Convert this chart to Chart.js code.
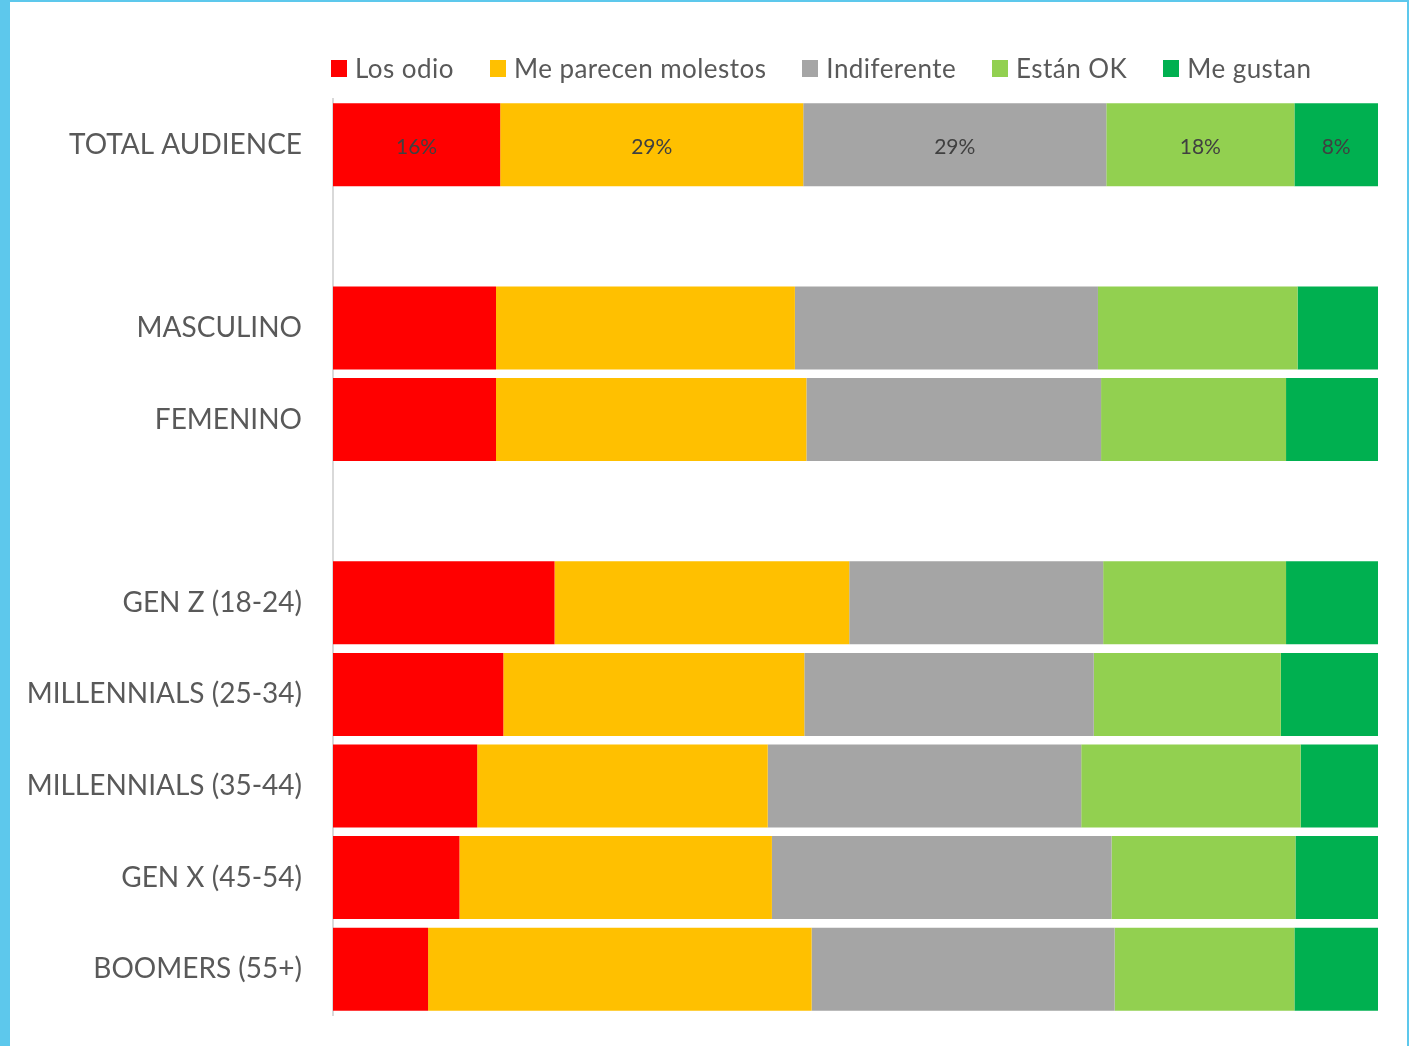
<!DOCTYPE html>
<html lang="es">
<head>
<meta charset="utf-8" />
<title>Opinión por segmento</title>
<style>
html,body{margin:0;padding:0;background:#fff;}
#frame{
    position:absolute;left:0;top:0;width:1409px;height:1046px;box-sizing:border-box;
    border-left:10px solid #5dc8ec;border-top:2px solid #5dc8ec;border-right:2px solid #5dc8ec;
    background:#fff;
}
#chart{position:absolute;left:0;top:0;}
#legend{
    position:absolute;left:331px;top:52px;height:32px;display:flex;align-items:center;gap:36px;
    font-family:Lato,"Open Sans",sans-serif;font-size:26px;letter-spacing:0.45px;color:#595959;white-space:nowrap;
}
#legend span{display:flex;align-items:center;}
.swatch{width:16px;height:17px;display:inline-block;margin-right:8px;}
</style>
</head>
<body>
<div id="frame"></div>
<canvas id="chart" width="1409" height="1046"></canvas>
<div id="legend"></div>

<script src="https://cdn.jsdelivr.net/npm/chart.js@4.4.1"></script>
<script>
/* ─────────── data ─────────── */
const categories = [
    'TOTAL AUDIENCE', '',
    'MASCULINO', 'FEMENINO', '',
    'GEN Z (18-24)', 'MILLENNIALS (25-34)', 'MILLENNIALS (35-44)', 'GEN X (45-54)', 'BOOMERS (55+)'
];
const seriesNames = ['Los odio', 'Me parecen molestos', 'Indiferente', 'Están OK', 'Me gustan'];
const losOdio     = [16, null, 15.6, 15.6, null, 21.2, 16.3, 13.8, 12.1,  9.1];
const molestos    = [29, null, 28.6, 29.7, null, 28.2, 28.8, 27.8, 29.9, 36.7];
const indiferente = [29, null, 29.0, 28.2, null, 24.3, 27.7, 30.0, 32.5, 29.0];
const estanOk     = [18, null, 19.1, 17.7, null, 17.5, 17.9, 21.0, 17.6, 17.2];
const meGustan    = [ 8, null,  7.8,  8.9, null,  8.8,  9.3,  7.4,  7.9,  8.0];
const labelledRows = [0];   // rows that show % values inside the bars

const colors = ['#ff0000', '#ffc000', '#a5a5a5', '#92d050', '#00b050'];
const FONT = 'Lato, "Open Sans", sans-serif';

/* ─────────── % labels inside the segments ─────────── */
const segLabels = {
    id: 'segLabels',
    afterDatasetsDraw(chart) {
        const {ctx} = chart;
        ctx.save();
        ctx.font = '21px ' + FONT;
        ctx.fillStyle = '#404040';
        ctx.textAlign = 'center';
        ctx.textBaseline = 'middle';
        chart.data.datasets.forEach((ds, d) => {
            const meta = chart.getDatasetMeta(d);
            labelledRows.forEach(i => {
                const v = ds.data[i];
                if (v == null) return;
                const {x, y} = meta.data[i].getCenterPoint();
                ctx.fillText(Math.round(v) + '%', x, y + 2);
            });
        });
        ctx.restore();
    }
};

Chart.defaults.animation = false;

const seriesData = [losOdio, molestos, indiferente, estanOk, meGustan];

new Chart(document.getElementById('chart'), {
    type: 'bar',
    data: {
        labels: categories,
        datasets: seriesData.map((d, i) => ({
            label: seriesNames[i],
            data: d,
            backgroundColor: colors[i],
            borderWidth: 0,
            categoryPercentage: 1,
            barPercentage: 0.906
        }))
    },
    options: {
        indexAxis: 'y',
        responsive: false,
        layout: {padding: {top: 99, bottom: 31, right: 31, left: 0}},
        plugins: {legend: {display: false}, tooltip: {enabled: false}},
        scales: {
            x: {stacked: true, min: 0, max: 100, display: false},
            y: {
                stacked: true,
                grid: {display: false, drawTicks: false},
                border: {display: true, color: '#d9d9d9', width: 2},
                ticks: {padding: 31, color: '#595959', font: {family: FONT, size: 28}},
                afterFit: s => { s.width = 333; s.paddingTop = 0; s.paddingBottom = 0; }
            }
        }
    },
    plugins: [segLabels]
});

/* ─────────── legend ─────────── */
const legend = document.getElementById('legend');
seriesNames.forEach((n, i) => {
    const item = document.createElement('span');
    const sw = document.createElement('span');
    sw.className = 'swatch';
    sw.style.backgroundColor = colors[i];
    item.appendChild(sw);
    item.appendChild(document.createTextNode(n));
    legend.appendChild(item);
});
</script>
</body>
</html>
